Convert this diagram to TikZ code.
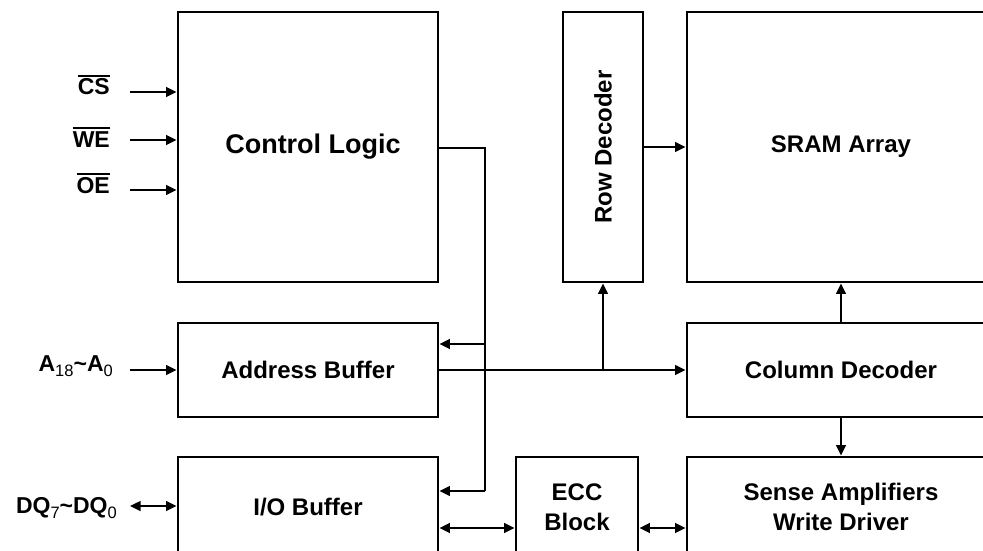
\documentclass[tikz,border=0pt]{standalone}
\usepackage{fontspec}
\setmainfont{Liberation Sans}
\usetikzlibrary{arrows.meta}
\newcommand\ovl[1]{\leavevmode\vbox{\hrule height 1.8pt\kern 2.4pt\hbox{#1}}}
\newcommand\sbs[1]{\raisebox{-5pt}{\fontsize{16.5}{18}\selectfont\mdseries #1}}
\begin{document}
\begin{tikzpicture}[x=1pt,y=-1pt,
  blk/.style={draw,line width=2.7pt,rectangle,inner sep=0pt,align=center,
    font=\fontsize{24}{30}\selectfont\bfseries},
  lbl/.style={inner sep=0pt,font=\fontsize{23}{26}\selectfont\bfseries},
  conn/.style={line width=2.4pt},
  tip/.style={-{Triangle[length=10.5pt,width=9.5pt]}},
  dtip/.style={{Triangle[length=10.5pt,width=9.5pt]}-{Triangle[length=10.5pt,width=9.5pt]}}]
\useasboundingbox (0,0) rectangle (983,551);
\clip (0,0) rectangle (983,551);
% blocks
\node[blk,minimum width=260pt,minimum height=270pt,font=\fontsize{27}{32}\selectfont\bfseries] (ctrl) at (308,147) {\hspace*{10pt}Control Logic};
\node[blk,minimum width=260pt,minimum height=94pt] (addr) at (308,370) {Address Buffer};
\node[blk,minimum width=260pt,minimum height=100pt] (io) at (308,507) {I/O Buffer};
\node[blk,minimum width=80pt,minimum height=270pt] (row) at (603,147) {\rotatebox{90}{Row Decoder}};
\node[blk,minimum width=308pt,minimum height=270pt] (sram) at (841,147) {SRAM Array};
\node[blk,minimum width=308pt,minimum height=94pt] (col) at (841,370) {Column Decoder};
\node[blk,minimum width=308pt,minimum height=100pt] (sense) at (841,507) {Sense Amplifiers\\Write Driver};
\node[blk,minimum width=122pt,minimum height=100pt] (ecc) at (577,507) {ECC\\Block};
% external labels
\node[lbl,anchor=base east] (cs) at (110,95) {\ovl{CS}};
\node[lbl,anchor=base east] (we) at (110,147) {\ovl{WE}};
\node[lbl,anchor=base east] (oe) at (110,193) {\ovl{OE}};
\node[lbl,anchor=base east] (ain) at (113,371) {A\sbs{18}\textasciitilde A\sbs{0}};
\node[lbl,anchor=base east] (dqin) at (117,513) {DQ\sbs{7}\textasciitilde DQ\sbs{0}};
% input connectors
\coordinate (cs0) at (130,92);
\coordinate (we0) at (130,140);
\coordinate (oe0) at (130,190);
\coordinate (a0) at (130,370);
\coordinate (dq0) at (130,506);
\draw[conn,tip] (cs0) -- (ctrl.west |- cs0);
\draw[conn,tip] (we0) -- (ctrl.west |- we0);
\draw[conn,tip] (oe0) -- (ctrl.west |- oe0);
\draw[conn,tip] (a0) -- (addr.west |- a0);
\draw[conn,dtip] (dq0) -- (io.west |- dq0);
% control bus
\coordinate (tA) at (485,344);
\coordinate (tB) at (485,491);
\coordinate (tC) at (ctrl.east |- 0,148);
\draw[conn] (tC) -| (tB);
\draw[conn,tip] (tB) -- (io.east |- tB);
\draw[conn,tip] (tA) -- (addr.east |- tA);
% address bus
\coordinate (tR) at (row.south |- addr.east);
\draw[conn,tip] (addr.east) -- (col.west);
\draw[conn,tip] (tR) -- (row.south);
\draw[conn,tip] (row.east) -- (sram.west |- row.east);
\draw[conn,tip] (col.north) -- (sram.south);
\draw[conn,tip] (col.south) -- (sense.north);
% data path
\coordinate (yb) at (0,528);
\draw[conn,dtip] (io.east |- yb) -- (ecc.west |- yb);
\draw[conn,dtip] (ecc.east |- yb) -- (sense.west |- yb);
\end{tikzpicture}
\end{document}
